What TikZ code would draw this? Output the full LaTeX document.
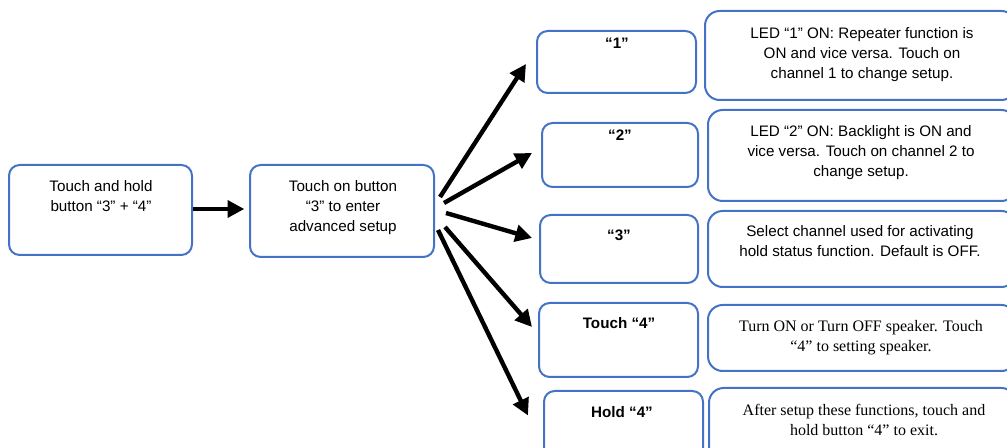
\documentclass[tikz,border=0pt]{standalone}
\usepackage{fontspec}
\setmainfont{Liberation Sans}
\newfontfamily\tms{Liberation Serif}
\usetikzlibrary{arrows.meta,fit,calc}
\definecolor{boxblue}{HTML}{4472C4}
\begin{document}
\begin{tikzpicture}[x=0.75pt,y=-0.75pt,
  bx/.style={draw=boxblue,line width=1.5pt,rounded corners=8pt,inner sep=0pt},
  bxr/.style={bx,rounded corners=11pt},
  txt/.style={align=center,font=\fontsize{11.4pt}{15pt}\selectfont,inner sep=0pt,anchor=north},
  btxt/.style={txt,font=\fontsize{11.4pt}{15pt}\selectfont\bfseries},
  ttxt/.style={txt,font=\fontsize{12pt}{15pt}\selectfont\tms},
  arr/.style={line width=3.3pt,-{Triangle[length=12.5pt,width=12.5pt]}}]
\useasboundingbox (0,0) rectangle (1007,448);
\clip (0,0) rectangle (1007,448);
% boxes
\node[bx,fit={(9,165)(192,255)}] (A) {};
\node[bx,fit={(250,165)(434,257)}] (B) {};
\node[bx,fit={(537,31)(696,93)}] (one) {};
\node[bx,fit={(542,123)(698,187)}] (two) {};
\node[bx,fit={(540,215)(698,283)}] (three) {};
\node[bx,fit={(539,303)(698,377)}] (four) {};
\node[bx,fit={(544,391)(703,462)}] (five) {};
\node[bxr,fit={(705,11)(1016,100)}] (r1) {};
\node[bxr,fit={(708,110)(1016,201)}] (r2) {};
\node[bxr,fit={(708,211)(1016,287)}] (r3) {};
\node[bxr,fit={(708,305)(1016,371)}] (r4) {};
\node[bxr,fit={(709,388)(1016,462)}] (r5) {};
% texts
\node[txt] (tA) at (101,180) {Touch and hold\\button “3” + “4”};
\node[txt] (tB) at (343,180) {Touch on button\\“3” to enter\\advanced setup};
\node[btxt] (t1) at (617,37.5) {“1”};
\node[btxt] (t2) at (620,129.5) {“2”};
\node[btxt] (t3) at (619,229.5) {“3”};
\node[btxt] (t4) at (619,317.5) {Touch “4”};
\node[btxt] (t5) at (622,406.5) {Hold “4”};
\node[txt] (tr1) at (862,27.5) {LED “1” ON: Repeater function is\\ON and vice versa. Touch on\\channel 1 to change setup.};
\node[txt] (tr2) at (861,125.5) {LED “2” ON: Backlight is ON and\\vice versa. Touch on channel 2 to\\change setup.};
\node[txt] (tr3) at (860,225.5) {Select channel used for activating\\hold status function. Default is OFF.};
\node[ttxt] (tr4) at (861,320.5) {Turn ON or Turn OFF speaker. Touch\\“4” to setting speaker.};
\node[ttxt] (tr5) at (864,403.5) {After setup these functions, touch and\\hold button “4” to exit.};
% arrows
\draw[arr,shorten >=3.5pt] ($(A.east)+(0,-1)$) -- ($(B.west)+(0,-2)$);
\draw[arr] ($(B.east)+(5,-14)$) -- ($(one.west)+(-10,2)$);
\draw[arr] ($(B.east)+(9,-8)$) -- ($(two.west)+(-9,-2)$);
\draw[arr] ($(B.east)+(11,2)$) -- ($(three.west)+(-7,-11)$);
\draw[arr] ($(B.east)+(10,16)$) -- ($(four.west)+(-6,-13)$);
\draw[arr] ($(B.east)+(3,19)$) -- ($(five.west)+(-15,-11)$);
\end{tikzpicture}
\end{document}
